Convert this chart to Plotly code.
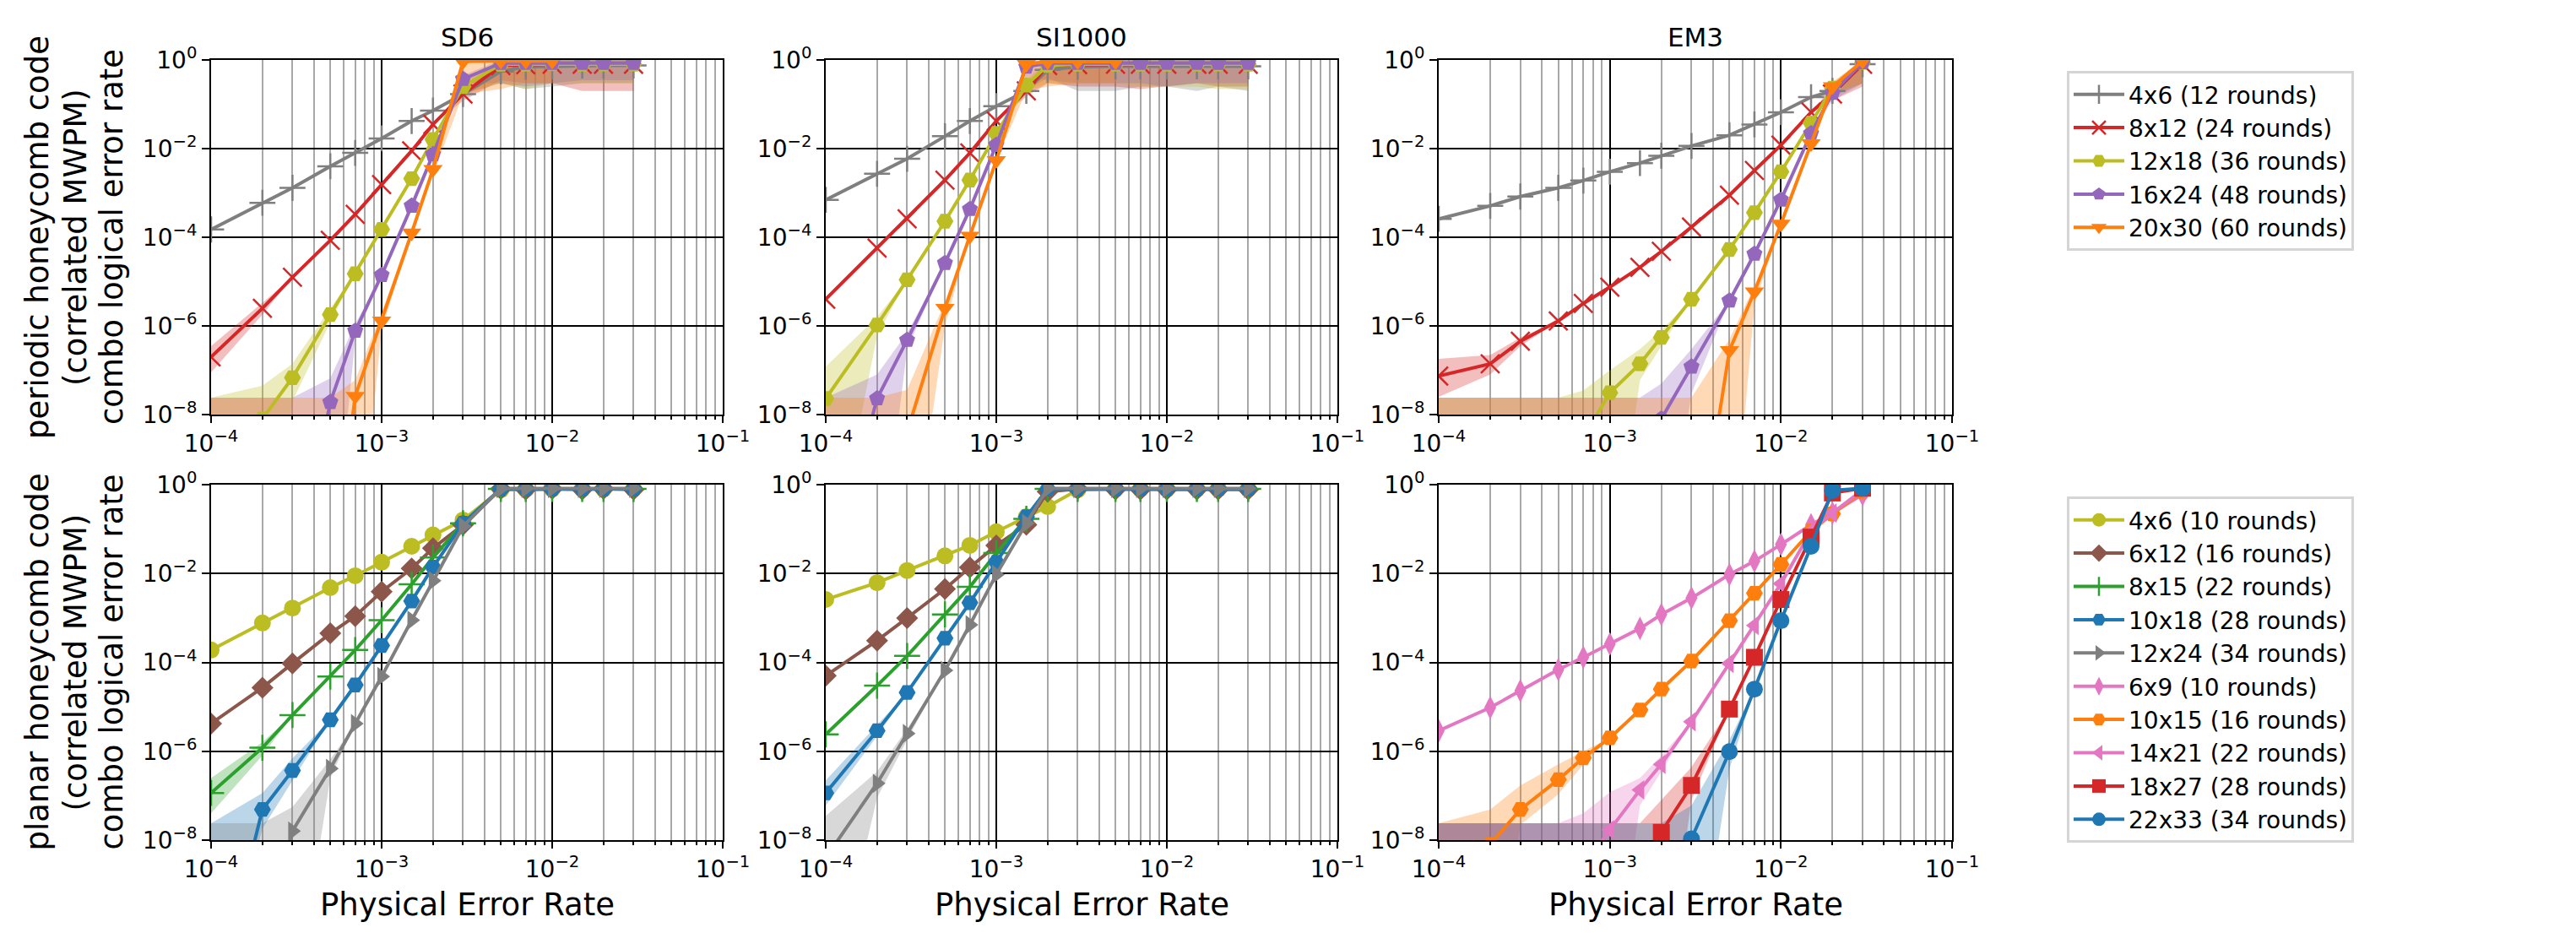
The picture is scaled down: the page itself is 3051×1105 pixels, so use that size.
"""Logical error rates of periodic and planar honeycomb codes under SD6 / SI1000 / EM3 noise.

Correlated MWPM decoding, combo logical error rate vs physical error rate, with
shaded uncertainty bands. Zero observed errors are drawn the way matplotlib's
log clipping does (line runs straight off the bottom of the axes).
"""

import plotly.graph_objects as go
from plotly.subplots import make_subplots

_ = None  # not sampled (in values) / band hugs the line (in LO, HI)

X = [1e-4, 2e-4, 3e-4, 5e-4, 7e-4, 1e-3, 1.5e-3, 2e-3, 3e-3, 5e-3, 7e-3, 1e-2, 1.5e-2, 2e-2, 3e-2]

NOISE_MODELS = ["SD6", "SI1000", "EM3"]

X_TICKS = [1e-4, 1e-3, 1e-2, 1e-1]
X_TICK_TEXT = ["10<sup>−4</sup>", "10<sup>−3</sup>", "10<sup>−2</sup>", "10<sup>−1</sup>"]
Y_TICKS = [1e0, 1e-2, 1e-4, 1e-6, 1e-8]
Y_TICK_TEXT = ["10<sup>0</sup>", "10<sup>−2</sup>", "10<sup>−4</sup>", "10<sup>−6</sup>", "10<sup>−8</sup>"]

ROW_LABELS = [
    ["periodic honeycomb code", "(correlated MWPM)", "combo logical error rate"],
    ["planar honeycomb code", "(correlated MWPM)", "combo logical error rate"],
]
X_LABEL = "Physical Error Rate"

# ---- periodic honeycomb code -------------------------------------------------
PER_SD6 = {
    "4x6 (12 rounds)": [1.5e-4, 6e-4, 1.3e-3, 4e-3, 8e-3, 1.7e-2, 4.2e-2, 7.2e-2, 0.17, 0.55, 0.7, 0.72, 0.75, 0.75, 0.75],
    "8x12 (24 rounds)": [2e-7, 2.5e-6, 1.25e-5, 8.5e-5, 3.3e-4, 1.55e-3, 8.9e-3, 3.5e-2, 0.17, 0.75, 0.78, 0.8, 0.8, 0.8, 0.8],
    "12x18 (36 rounds)": [0, 8e-9, 6.8e-8, 1.8e-6, 1.5e-5, 1.5e-4, 2.1e-3, 1.6e-2, 0.25, 0.8, 0.8, 0.82, 0.8, 0.8, 0.8],
    "16x24 (48 rounds)": [0, 0, 0, 1.9e-8, 7.7e-7, 1.4e-5, 5.1e-4, 7.4e-3, 0.37, 0.85, 0.85, 0.85, 0.85, 0.85, 0.85],
    "20x30 (60 rounds)": [0, 0, 0, 0, 2.6e-8, 1.3e-6, 1.26e-4, 3.4e-3, 0.93, 0.95, 0.95, 0.95, _, _, _],
}
PER_SD6_LO = {
    "4x6 (12 rounds)": [_, _, _, _, _, _, _, _, _, 0.3, 0.22, 0.25, 0.3, 0.3, 0.3],
    "8x12 (24 rounds)": [9e-8, 1.8e-6, _, _, _, _, _, _, 0.12, 0.35, 0.3, 0.3, 0.2, 0.2, 0.2],
    "12x18 (36 rounds)": [0, 0, 2e-8, 1.2e-6, _, _, _, _, 0.18, 0.3, 0.22, 0.3, 0.3, 0.3, 0.3],
    "16x24 (48 rounds)": [0, 0, 0, 0, 5e-7, _, _, _, 0.3, 0.3, 0.25, 0.3, 0.35, 0.35, 0.35],
    "20x30 (60 rounds)": [0, 0, 0, 0, 0, 8e-7, _, 2.5e-3, 0.17, 0.22, 0.3, 0.3, _, _, _],
}
PER_SD6_HI = {
    "4x6 (12 rounds)": [_, _, _, _, _, _, _, _, _, 1, 1, 1, 1, 1, 1],
    "8x12 (24 rounds)": [3.5e-7, 3.3e-6, _, _, _, _, _, _, 0.22, 1, 1, 1, 1, 1, 1],
    "12x18 (36 rounds)": [2.4e-8, 4.5e-8, 1.4e-7, 2.5e-6, _, _, _, _, 0.32, 1, 1, 1, 1, 1, 1],
    "16x24 (48 rounds)": [2.4e-8, 2.4e-8, 2.4e-8, 6.6e-8, 1.1e-6, _, _, _, 0.45, 1, 1, 1, 1, 1, 1],
    "20x30 (60 rounds)": [2.4e-8, 2.4e-8, 2.4e-8, 2.4e-8, 6e-8, 2e-6, _, 4.5e-3, 1, 1, 1, 1, _, _, _],
}

PER_SI1000 = {
    "4x6 (12 rounds)": [7e-4, 2.7e-3, 5.9e-3, 1.9e-2, 4.2e-2, 9.1e-2, 0.2, 0.6, 0.7, 0.72, 0.72, 0.72, 0.72, 0.72, 0.72],
    "8x12 (24 rounds)": [4e-6, 5.7e-5, 2.6e-4, 1.95e-3, 8e-3, 4.2e-2, 0.2, 0.75, 0.78, 0.8, 0.8, 0.8, 0.8, 0.8, 0.8],
    "12x18 (36 rounds)": [2.3e-8, 1.05e-6, 1.1e-5, 2.3e-4, 1.95e-3, 2.2e-2, 0.27, 0.75, 0.8, 0.8, 0.8, 0.8, 0.8, 0.8, 0.8],
    "16x24 (48 rounds)": [0, 2.3e-8, 4.8e-7, 2.6e-5, 4.3e-4, 1.2e-2, 0.7, 0.85, 0.85, 0.85, 0.85, 0.85, 0.85, 0.85, 0.85],
    "20x30 (60 rounds)": [0, 0, 4e-9, 2.5e-6, 1.07e-4, 5.4e-3, 0.8, 0.92, 0.92, 0.92, _, _, _, _, _],
}
PER_SI1000_LO = {
    "4x6 (12 rounds)": [_, _, _, _, _, _, _, 0.4, 0.2, 0.2, 0.25, 0.25, 0.2, 0.25, 0.2],
    "8x12 (24 rounds)": [_, _, _, _, _, _, 0.15, 0.3, 0.25, 0.25, 0.22, 0.25, 0.3, 0.25, 0.25],
    "12x18 (36 rounds)": [0, 6e-7, _, _, _, _, 0.2, 0.3, 0.3, 0.3, 0.25, 0.25, 0.25, 0.22, 0.22],
    "16x24 (48 rounds)": [0, 0, 3e-7, _, _, _, 0.4, 0.35, 0.3, 0.3, 0.3, 0.25, 0.3, 0.3, 0.3],
    "20x30 (60 rounds)": [0, 0, 0, 1e-6, _, _, 0.2, 0.25, 0.3, 0.3, _, _, _, _, _],
}
PER_SI1000_HI = {
    "4x6 (12 rounds)": [_, _, _, _, _, _, _, 1, 1, 1, 1, 1, 1, 1, 1],
    "8x12 (24 rounds)": [_, _, _, _, _, _, 0.25, 1, 1, 1, 1, 1, 1, 1, 1],
    "12x18 (36 rounds)": [1.2e-7, 1.6e-6, _, _, _, _, 0.35, 1, 1, 1, 1, 1, 1, 1, 1],
    "16x24 (48 rounds)": [2.4e-8, 8e-8, 7e-7, _, _, _, 0.9, 1, 1, 1, 1, 1, 1, 1, 1],
    "20x30 (60 rounds)": [2.4e-8, 2.4e-8, 3.6e-8, 3.5e-6, _, _, 1, 1, 1, 1, _, _, _, _, _],
}

PER_EM3 = {
    "4x6 (12 rounds)": [2.6e-4, 5.1e-4, 8.3e-4, 1.3e-3, 1.9e-3, 3e-3, 4.7e-3, 6.9e-3, 1.15e-2, 2e-2, 3.5e-2, 6.6e-2, 0.145, 0.2, 0.8],
    "8x12 (24 rounds)": [7.4e-8, 1.4e-7, 4.5e-7, 1.3e-6, 3.2e-6, 7.5e-6, 2.1e-5, 4.8e-5, 1.7e-4, 8.9e-4, 3.2e-3, 1.2e-2, 6.6e-2, 0.17, 0.8],
    "12x18 (36 rounds)": [0, 0, 0, 0, 3e-9, 3.1e-8, 1.4e-7, 5.5e-7, 4e-6, 5.3e-5, 3.6e-4, 3e-3, 3.8e-2, 0.23, 0.88],
    "16x24 (48 rounds)": [0, 0, 0, 0, 0, 0, 0, 8e-9, 1.2e-7, 3.7e-6, 4.2e-5, 7e-4, 2.2e-2, 0.18, 0.88],
    "20x30 (60 rounds)": [0, 0, 0, 0, 0, 0, 0, 0, 0, 2.8e-7, 5.9e-6, 2e-4, 1.3e-2, 0.25, 0.95],
}
PER_EM3_LO = {
    "4x6 (12 rounds)": [_, _, _, _, _, _, _, _, _, _, _, _, _, 0.15, 0.3],
    "8x12 (24 rounds)": [2.5e-8, 8e-8, 3.5e-7, _, _, _, _, _, _, _, _, _, _, 0.12, 0.25],
    "12x18 (36 rounds)": [0, 0, 0, 0, 0, 0, 6e-8, 3.5e-7, _, _, _, _, _, 0.15, 0.3],
    "16x24 (48 rounds)": [0, 0, 0, 0, 0, 0, 0, 0, 3e-8, _, _, _, _, 0.12, 0.3],
    "20x30 (60 rounds)": [0, 0, 0, 0, 0, 0, 0, 0, 0, 0, 3e-6, _, _, 0.18, 0.3],
}
PER_EM3_HI = {
    "4x6 (12 rounds)": [_, _, _, _, _, _, _, _, _, _, _, _, _, 0.25, 1],
    "8x12 (24 rounds)": [1.8e-7, 2.2e-7, 5.5e-7, _, _, _, _, _, _, _, _, _, _, 0.25, 1],
    "12x18 (36 rounds)": [2.4e-8, 2.4e-8, 2.4e-8, 2.4e-8, 3.5e-8, 1e-7, 3e-7, 8e-7, _, _, _, _, _, 0.3, 1],
    "16x24 (48 rounds)": [2.4e-8, 2.4e-8, 2.4e-8, 2.4e-8, 2.4e-8, 2.4e-8, 2.4e-8, 5e-8, 3e-7, _, _, _, _, 0.25, 1],
    "20x30 (60 rounds)": [2.4e-8, 2.4e-8, 2.4e-8, 2.4e-8, 2.4e-8, 2.4e-8, 2.4e-8, 2.4e-8, 2.4e-8, 5e-7, 8e-6, _, _, 0.32, 1],
}

# ---- planar honeycomb code ---------------------------------------------------
PLA_SD6 = {
    "4x6 (10 rounds)": [1.9e-4, 7.7e-4, 1.67e-3, 4.8e-3, 8.9e-3, 1.8e-2, 4.1e-2, 7.4e-2, 0.16, 0.76, 0.78, 0.8, 0.8, 0.8, 0.8],
    "6x12 (16 rounds)": [4.2e-6, 2.7e-5, 9.5e-5, 4.5e-4, 1.1e-3, 3.9e-3, 1.3e-2, 3.7e-2, 0.125, 0.8, 0.78, 0.8, 0.78, 0.8, 0.78],
    "8x15 (22 rounds)": [1.15e-7, 1.2e-6, 6.5e-6, 4.8e-5, 1.9e-4, 8.9e-4, 5.7e-3, 2.3e-2, 0.135, 0.8, 0.8, 0.8, 0.8, 0.8, 0.8],
    "10x18 (28 rounds)": [0, 4.9e-8, 3.7e-7, 5.1e-6, 3.1e-5, 2.4e-4, 2.4e-3, 1.4e-2, 0.135, 0.8, 0.8, 0.8, 0.8, 0.8, 0.8],
    "12x24 (34 rounds)": [0, 0, 1.6e-8, 4.1e-7, 4.2e-6, 4.8e-5, 8.9e-4, 6.9e-3, 0.115, 0.82, 0.82, 0.82, 0.82, 0.82, 0.82],
}
PLA_SD6_LO = {
    "4x6 (10 rounds)": [_, _, _, _, _, _, _, _, _, _, _, _, _, _, _],
    "6x12 (16 rounds)": [_, _, _, _, _, _, _, _, _, _, _, _, _, _, _],
    "8x15 (22 rounds)": [4e-8, 8e-7, _, _, _, _, _, _, _, _, _, _, _, _, _],
    "10x18 (28 rounds)": [0, 1.8e-8, 2.2e-7, _, _, _, _, _, _, _, _, _, _, _, _],
    "12x24 (34 rounds)": [0, 0, 0, 2.5e-7, _, _, _, _, _, _, _, _, _, _, _],
}
PLA_SD6_HI = {
    "4x6 (10 rounds)": [_, _, _, _, _, _, _, _, _, _, _, _, _, _, _],
    "6x12 (16 rounds)": [_, _, _, _, _, _, _, _, _, _, _, _, _, _, _],
    "8x15 (22 rounds)": [2.5e-7, 1.6e-6, _, _, _, _, _, _, _, _, _, _, _, _, _],
    "10x18 (28 rounds)": [2.4e-8, 1.15e-7, 7e-7, _, _, _, _, _, _, _, _, _, _, _, _],
    "12x24 (34 rounds)": [2.4e-8, 2.4e-8, 5.6e-8, 6.5e-7, _, _, _, _, _, _, _, _, _, _, _],
}

PLA_SI1000 = {
    "4x6 (10 rounds)": [2.6e-3, 6.2e-3, 1.17e-2, 2.5e-2, 4.3e-2, 8.7e-2, 0.19, 0.32, 0.76, 0.8, 0.8, 0.8, 0.8, 0.8, 0.8],
    "6x12 (16 rounds)": [5e-5, 3.1e-4, 1e-3, 4.5e-3, 1.37e-2, 4.3e-2, 0.125, 0.7, 0.8, 0.78, 0.78, 0.78, 0.78, 0.78, 0.78],
    "8x15 (22 rounds)": [2.4e-6, 3e-5, 1.4e-4, 1.2e-3, 5e-3, 2.9e-2, 0.17, 0.8, 0.8, 0.8, 0.8, 0.8, 0.8, 0.8, 0.8],
    "10x18 (28 rounds)": [1.15e-7, 2.9e-6, 2.1e-5, 3.5e-4, 2.2e-3, 1.8e-2, 0.19, 0.8, 0.8, 0.8, 0.8, 0.8, 0.8, 0.8, 0.8],
    "12x24 (34 rounds)": [4e-9, 1.9e-7, 2.5e-6, 6.6e-5, 7e-4, 9.5e-3, 0.135, 0.82, 0.82, 0.82, 0.82, 0.82, 0.82, 0.82, 0.82],
}
PLA_SI1000_LO = {
    "4x6 (10 rounds)": [_, _, _, _, _, _, _, _, _, _, _, _, _, _, _],
    "6x12 (16 rounds)": [_, _, _, _, _, _, _, _, _, _, _, _, _, _, _],
    "8x15 (22 rounds)": [_, _, _, _, _, _, _, _, _, _, _, _, _, _, _],
    "10x18 (28 rounds)": [6e-8, 2.2e-6, _, _, _, _, _, _, _, _, _, _, _, _, _],
    "12x24 (34 rounds)": [0, 9e-8, 1.8e-6, _, _, _, _, _, _, _, _, _, _, _, _],
}
PLA_SI1000_HI = {
    "4x6 (10 rounds)": [_, _, _, _, _, _, _, _, _, _, _, _, _, _, _],
    "6x12 (16 rounds)": [_, _, _, _, _, _, _, _, _, _, _, _, _, _, _],
    "8x15 (22 rounds)": [_, _, _, _, _, _, _, _, _, _, _, _, _, _, _],
    "10x18 (28 rounds)": [2.2e-7, 4e-6, _, _, _, _, _, _, _, _, _, _, _, _, _],
    "12x24 (34 rounds)": [3.5e-8, 3.5e-7, 3.2e-6, _, _, _, _, _, _, _, _, _, _, _, _],
}

PLA_EM3 = {
    "6x9 (10 rounds)": [2.9e-6, 9.6e-6, 2.3e-5, 6.9e-5, 1.3e-4, 2.6e-4, 5.8e-4, 1.2e-3, 2.8e-3, 9.5e-3, 1.9e-2, 4.5e-2, 0.125, 0.23, 0.6],
    "10x15 (16 rounds)": [0, 8e-9, 4.9e-8, 2.3e-7, 7.1e-7, 2e-6, 8.5e-6, 2.5e-5, 1.07e-4, 8.7e-4, 3.6e-3, 1.6e-2, 9e-2, 0.22, 0.7],
    "14x21 (22 rounds)": [0, 0, 0, 0, 2.5e-9, 1.7e-8, 1.35e-7, 5.1e-7, 4.6e-6, 9.5e-5, 6.8e-4, 5.9e-3, 0.09, 0.23, 0.76],
    "18x27 (28 rounds)": [0, 0, 0, 0, 0, 0, 0, 1.5e-8, 1.7e-7, 8.9e-6, 1.3e-4, 2.6e-3, 6.6e-2, 0.65, 0.83],
    "22x33 (34 rounds)": [0, 0, 0, 0, 0, 0, 0, 0, 1.07e-8, 9.8e-7, 2.5e-5, 8.7e-4, 4.1e-2, 0.74, 0.83],
}
PLA_EM3_LO = {
    "6x9 (10 rounds)": [_, _, _, _, _, _, _, _, _, _, _, _, _, _, _],
    "10x15 (16 rounds)": [0, 0, 2.2e-8, 1.07e-7, 5e-7, _, _, _, _, _, _, _, _, _, _],
    "14x21 (22 rounds)": [0, 0, 0, 0, 0, 0, 6e-8, 3.5e-7, _, _, _, _, _, _, _],
    "18x27 (28 rounds)": [0, 0, 0, 0, 0, 0, 0, 0, 8e-8, _, _, _, _, _, _],
    "22x33 (34 rounds)": [0, 0, 0, 0, 0, 0, 0, 0, 0, 4e-7, _, _, _, _, _],
}
PLA_EM3_HI = {
    "6x9 (10 rounds)": [_, _, _, _, _, _, _, _, _, _, _, _, _, _, _],
    "10x15 (16 rounds)": [2.4e-8, 4.9e-8, 1.7e-7, 5.1e-7, 1e-6, _, _, _, _, _, _, _, _, _, _],
    "14x21 (22 rounds)": [2.4e-8, 2.4e-8, 2.4e-8, 2.4e-8, 4e-8, 1.2e-7, 2.5e-7, 8e-7, _, _, _, _, _, _, _],
    "18x27 (28 rounds)": [2.4e-8, 2.4e-8, 2.4e-8, 2.4e-8, 2.4e-8, 2.4e-8, 2.4e-8, 8e-8, 4.4e-7, _, _, _, _, _, _],
    "22x33 (34 rounds)": [2.4e-8, 2.4e-8, 2.4e-8, 2.4e-8, 2.4e-8, 2.4e-8, 2.4e-8, 2.4e-8, 6e-8, 1.8e-6, _, _, _, _, _],
}

STYLE = {
    "4x6 (12 rounds)": ("#7f7f7f", "cross-thin"),
    "8x12 (24 rounds)": ("#d62728", "x-thin"),
    "12x18 (36 rounds)": ("#bcbd22", "hexagon2"),
    "16x24 (48 rounds)": ("#9467bd", "pentagon"),
    "20x30 (60 rounds)": ("#ff7f0e", "triangle-down"),
    "4x6 (10 rounds)": ("#bcbd22", "circle"),
    "6x12 (16 rounds)": ("#8c564b", "diamond"),
    "8x15 (22 rounds)": ("#2ca02c", "cross-thin"),
    "10x18 (28 rounds)": ("#1f77b4", "hexagon2"),
    "12x24 (34 rounds)": ("#7f7f7f", "triangle-right"),
    "6x9 (10 rounds)": ("#e377c2", "diamond-tall"),
    "10x15 (16 rounds)": ("#ff7f0e", "hexagon2"),
    "14x21 (22 rounds)": ("#e377c2", "triangle-left"),
    "18x27 (28 rounds)": ("#d62728", "square"),
    "22x33 (34 rounds)": ("#1f77b4", "circle"),
}

W, H = 3051, 1105
FONT = "DejaVu Sans"
FLOOR = 1e-12  # where a zero lands on the log axis (well below the frame)

# panel frames in pixels (left, right) / (top, bottom)
COL_PX = [(242, 848), (970, 1576), (1696, 2304)]
ROW_PX = [(63, 483), (566, 987)]


def on_log(v):
    return FLOOR if v == 0 else v


def rgba(hex_color, alpha):
    h = hex_color.lstrip("#")
    return f"rgba({int(h[0:2], 16)},{int(h[2:4], 16)},{int(h[4:6], 16)},{alpha})"


def add_panel(fig, row, col, values, lows, highs, legend, show_legend):
    series = []
    for name, y in values.items():
        idx = [i for i, v in enumerate(y) if v is not None]
        xs = [X[i] for i in idx]
        ys = [on_log(y[i]) for i in idx]
        lo = [on_log(y[i] if lows[name][i] is None else lows[name][i]) for i in idx]
        hi = [on_log(y[i] if highs[name][i] is None else highs[name][i]) for i in idx]
        series.append((name, xs, ys, lo, hi))

    # bands first, then the lines on top
    for name, xs, ys, lo, hi in series:
        color = STYLE[name][0]
        fig.add_trace(
            go.Scatter(
                x=xs + xs[::-1],
                y=hi + lo[::-1],
                mode="lines",
                fill="toself",
                fillcolor=rgba(color, 0.3),
                line=dict(width=0, color=rgba(color, 0)),
                hoverinfo="skip",
                showlegend=False,
                legend=legend,
            ),
            row=row,
            col=col,
        )
    for name, xs, ys, lo, hi in series:
        color, symbol = STYLE[name]
        thin = symbol.endswith("-thin")
        fig.add_trace(
            go.Scatter(
                x=xs,
                y=ys,
                mode="lines+markers",
                name=name,
                line=dict(color=color, width=4),
                marker=dict(
                    symbol=symbol,
                    size=22 if thin else 20,
                    color=color,
                    line=dict(width=2.5 if thin else 0, color=color),
                ),
                legend=legend,
                showlegend=show_legend,
            ),
            row=row,
            col=col,
        )


fig = make_subplots(rows=2, cols=3)

panels = [
    (1, 1, PER_SD6, PER_SD6_LO, PER_SD6_HI, "legend", True),
    (1, 2, PER_SI1000, PER_SI1000_LO, PER_SI1000_HI, "legend", False),
    (1, 3, PER_EM3, PER_EM3_LO, PER_EM3_HI, "legend", False),
    (2, 1, PLA_SD6, PLA_SD6_LO, PLA_SD6_HI, "legend2", True),
    (2, 2, PLA_SI1000, PLA_SI1000_LO, PLA_SI1000_HI, "legend2", False),
    (2, 3, PLA_EM3, PLA_EM3_LO, PLA_EM3_HI, "legend2", True),
]
for row, col, vals, lo, hi, leg, show in panels:
    add_panel(fig, row, col, vals, lo, hi, leg, show)

minor_x = [m * 10.0**e for e in (-4, -3, -2) for m in range(2, 10)]
tick_font = dict(family=FONT, size=28, color="black")

for r, (top, bottom) in enumerate(ROW_PX, start=1):
    for c, (left, right) in enumerate(COL_PX, start=1):
        fig.update_xaxes(
            domain=[left / W, right / W],
            type="log",
            range=[-4, -1],
            tickmode="array",
            tickvals=X_TICKS,
            ticktext=X_TICK_TEXT,
            ticks="outside",
            ticklen=8,
            tickwidth=2,
            tickcolor="black",
            tickfont=tick_font,
            showline=True,
            linecolor="black",
            linewidth=2,
            mirror=True,
            showgrid=True,
            gridcolor="black",
            gridwidth=2,
            zeroline=False,
            minor=dict(
                tickmode="array",
                tickvals=minor_x,
                ticks="outside",
                ticklen=4,
                tickwidth=1.5,
                tickcolor="black",
                showgrid=True,
                gridcolor="#a8a8a8",
                gridwidth=2,
            ),
            row=r,
            col=c,
        )
        fig.update_yaxes(
            domain=[1 - bottom / H, 1 - top / H],
            type="log",
            range=[-8, 0],
            tickmode="array",
            tickvals=Y_TICKS,
            ticktext=Y_TICK_TEXT,
            ticks="outside",
            ticklen=9,
            tickwidth=2,
            tickcolor="black",
            tickfont=tick_font,
            showline=True,
            linecolor="black",
            linewidth=2,
            mirror=True,
            showgrid=True,
            gridcolor="black",
            gridwidth=2,
            zeroline=False,
            row=r,
            col=c,
        )

annotations = []
for (left, right), title in zip(COL_PX, NOISE_MODELS):
    cx = (left + right) / 2 / W
    annotations.append(
        dict(text=title, x=cx, y=1 - 36 / H, xref="paper", yref="paper",
             xanchor="center", yanchor="middle", showarrow=False,
             font=dict(family=FONT, size=31, color="black"))
    )
    annotations.append(
        dict(text=X_LABEL, x=cx, y=1 - 1063 / H, xref="paper", yref="paper",
             xanchor="center", yanchor="middle", showarrow=False,
             font=dict(family=FONT, size=37, color="black"))
    )
for (top, bottom), lines in zip(ROW_PX, ROW_LABELS):
    cy = 1 - (top + bottom) / 2 / H
    for px, text in zip((36, 81, 124), lines):
        annotations.append(
            dict(text=text, x=px / W, y=cy, xref="paper", yref="paper",
                 xanchor="center", yanchor="middle", textangle=-90,
                 showarrow=False, font=dict(family=FONT, size=37, color="black"))
        )

legend_style = dict(
    xanchor="left",
    yanchor="top",
    bgcolor="white",
    bordercolor="#d5d5d5",
    borderwidth=3,
    font=dict(family=FONT, size=28, color="black"),
    itemwidth=60,
    tracegroupgap=0,
)

fig.update_layout(
    width=W,
    height=H,
    autosize=False,
    margin=dict(l=0, r=0, t=0, b=0),
    paper_bgcolor="white",
    plot_bgcolor="white",
    template="none",
    annotations=annotations,
    legend=dict(x=2440 / W, y=1 - 76 / H, **legend_style),
    legend2=dict(x=2440 / W, y=1 - 580 / H, **legend_style),
)

fig.write_html("out.html")
